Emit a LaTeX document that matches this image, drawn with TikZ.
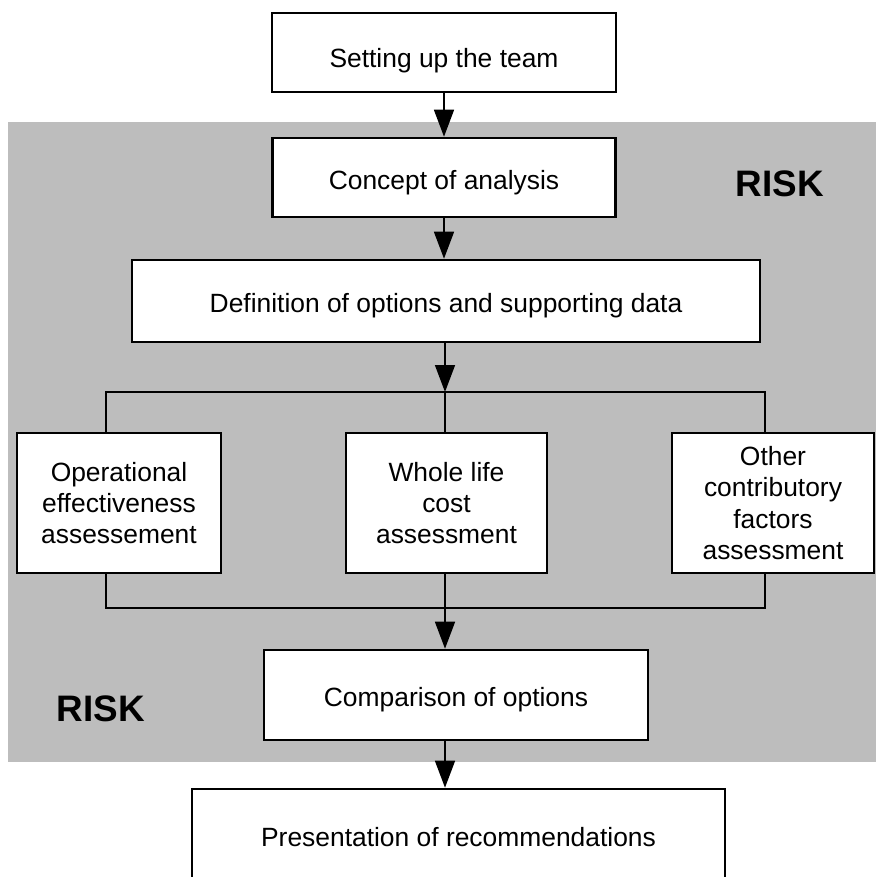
\documentclass[tikz,border=0pt]{standalone}
\usepackage{fontspec}
\setmainfont{Liberation Sans}
\usetikzlibrary{arrows.meta}
\begin{document}
\begin{tikzpicture}[x=1bp,y=-1bp,
  stepbox/.style={draw=black, line width=2.6bp, fill=white, inner sep=0pt,
    align=center, font=\fontsize{26.5}{31.5}\selectfont},
  oneline/.style={text depth=5.6bp, text height=#1},
  link/.style={line width=1.5bp},
  flow/.style={line width=1.5bp, -{Triangle[length=27bp,width=20bp]}},
  bracket/.style={line width=2bp},
  risklabel/.style={font=\fontsize{37}{37}\selectfont\bfseries, inner sep=0pt},
  riskzone/.style={fill=black!26}]
\useasboundingbox (0,0) rectangle (876,877);
\clip (0,0) rectangle (876,877);

% shaded risk zone behind the analysis stages
\fill[riskzone] (8,122) rectangle (876,762);
\node[risklabel] (riskA) at (780,184) {RISK};
\node[risklabel] (riskB) at (101,709) {RISK};

% process stages
\node[stepbox, oneline=35bp, minimum width=344bp, minimum height=79bp] (team) at (444,52.5) {Setting up the team};
\node[stepbox, oneline=29bp, minimum width=343bp, minimum height=79bp] (concept) at (444,177.5) {Concept of analysis};
\node[stepbox, oneline=29bp, minimum width=628bp, minimum height=82bp] (define) at (446,301) {Definition of options and supporting data};

\node[stepbox, minimum width=204bp, minimum height=140bp] (opeff) at (119,503) {Operational\\effectiveness\\assessement};
\node[stepbox, minimum width=201bp, minimum height=140bp] (wlc) at (446.5,503) {Whole life\\cost\\assessment};
\node[stepbox, minimum width=202bp, minimum height=140bp] (other) at (773,503) {Other\\contributory\\factors\\assessment};

\node[stepbox, oneline=29bp, minimum width=384bp, minimum height=90bp] (compare) at (456,695) {Comparison of options};
\node[stepbox, oneline=23bp, minimum width=533bp, minimum height=98bp] (present) at (458.5,838) {Presentation of recommendations};

% junction points of the split and merge brackets
\coordinate (splitL) at (106,392);
\coordinate (splitM) at (445,392);
\coordinate (splitR) at (765,392);
\coordinate (mergeL) at (106,608);
\coordinate (mergeM) at (445,608);
\coordinate (mergeR) at (765,608);

% connectors
\draw[flow] (team.south) -- (concept.north);
\draw[flow] (concept.south) -- (define.north -| concept.south);
\draw[flow] (define.south -| splitM) -- (splitM);
\draw[bracket] (opeff.north -| splitL) -- (splitL) -- (splitR) -- (other.north -| splitR);
\draw[link] (splitM) -- (wlc.north -| splitM);
\draw[bracket] (opeff.south -| mergeL) -- (mergeL) -- (mergeR) -- (other.south -| mergeR);
\draw[link] (wlc.south -| mergeM) -- (mergeM);
\draw[flow] (mergeM) -- (compare.north -| mergeM);
\draw[flow] (compare.south -| mergeM) -- (present.north -| mergeM);
\end{tikzpicture}
\end{document}
